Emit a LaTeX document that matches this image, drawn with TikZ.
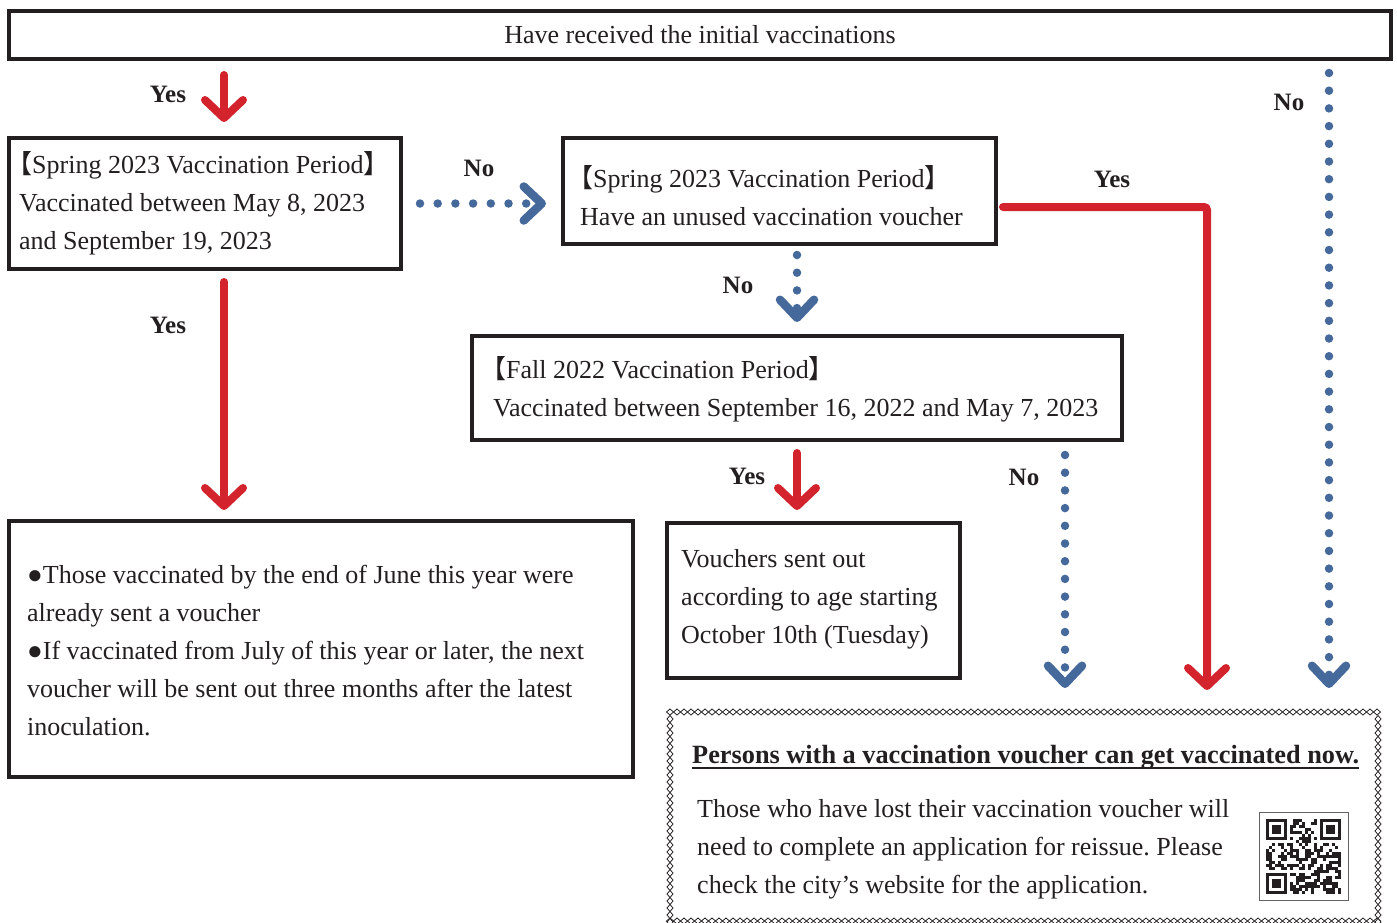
\documentclass[tikz,border=0pt]{standalone}
\usepackage{fontspec}
\setmainfont{Liberation Serif}
\newfontfamily\cjk[RawFeature=+halt]{Noto Sans CJK JP}
\usetikzlibrary{arrows.meta}
\frenchspacing

\newcommand\bodyfont{\fontsize{26}{38}\selectfont}
\newcommand\lbr{{\cjk 【}}
\newcommand\rbr{{\cjk 】}}
\definecolor{vred}{HTML}{D3232C}
\definecolor{vblue}{HTML}{46699B}
\definecolor{ink}{HTML}{231F20}

\tikzset{
  box/.style={draw=ink, line width=3.5pt, anchor=north west, inner sep=0pt, outer sep=0pt},
  txt/.style={font=\bodyfont, text=ink, align=left, inner sep=0pt, anchor=west},
  lbl/.style={font=\fontsize{25}{30}\selectfont\bfseries, text=ink, inner sep=0pt},
  yesarrow/.style={draw=vred, line width=8pt, line cap=round,
    -{Straight Barb[round, length=18pt, width=38pt, line width=8pt]}},
  noarrow/.style={draw=vblue, line width=8.5pt, line cap=round, dash pattern=on 0pt off 17.7pt,
    -{Straight Barb[round, length=18pt, width=34pt, line width=8.5pt]}},
  chainlink/.style={draw=ink, line width=0.8pt, fill=white},
}

\begin{document}
\begin{tikzpicture}[x=1pt, y=-1pt]
\clip (0,0) rectangle (1397,922);
\fill[white] (0,0) rectangle (1397,922);

% columns used by the long arrows
\coordinate (colA) at (224,0);
\coordinate (colF1) at (1065,0);
\coordinate (colF2) at (1207,0);
\coordinate (colF3) at (1329,0);

% question boxes
\node[box, font=\bodyfont, text=ink, minimum width=1382pt, minimum height=48pt] (start) at (9,11)
  {Have received the initial vaccinations};

\node[box, minimum width=392pt, minimum height=131pt] (boxA) at (9,138) {};
\node[txt] (textA) at ([xshift=10pt]boxA.west)
  {\lbr Spring 2023 Vaccination Period\rbr\\Vaccinated between May 8, 2023\\and September 19, 2023};

\node[box, minimum width=433pt, minimum height=106pt] (boxB) at (563,138) {};
\node[txt] (textB) at ([xshift=17pt,yshift=-5pt]boxB.west)
  {\lbr Spring 2023 Vaccination Period\rbr\\Have an unused vaccination voucher};

\node[box, minimum width=650pt, minimum height=104pt] (boxC) at (472,336) {};
\node[txt] (textC) at ([xshift=21pt,yshift=-1pt]boxC.west)
  {\lbr Fall 2022 Vaccination Period\rbr\\Vaccinated between September 16, 2022 and May 7, 2023};

% result boxes
\node[box, minimum width=293pt, minimum height=155pt] (boxD) at (667,523) {};
\node[txt] (textD) at ([xshift=14pt,yshift=1pt]boxD.west)
  {Vouchers sent out\\according to age starting\\October 10th (Tuesday)};

\node[box, minimum width=624pt, minimum height=256pt] (boxE) at (9,521) {};
\node[txt] (textE) at ([xshift=18pt,yshift=-2pt]boxE.west)
  {●Those vaccinated by the end of June this year were\\already sent a voucher\\
   ●If vaccinated from July of this year or later, the next\\
   voucher will be sent out three months after the latest\\inoculation.};

\node[anchor=north west, minimum width=708pt, minimum height=209pt, inner sep=0pt, outer sep=0pt] (boxF) at (670,712) {};
\foreach \i in {0,...,101} {
  \draw[chainlink] (670+7*\i,712) +(-3.5,0) -- +(0,-3) -- +(3.5,0) -- +(0,3) -- cycle;
  \draw[chainlink] (670+7*\i,921) +(-3.5,0) -- +(0,-3) -- +(3.5,0) -- +(0,3) -- cycle;
}
\foreach \j in {1,...,30} {
  \draw[chainlink] (670,712+7*\j) +(-3,0) -- +(0,-3.5) -- +(3,0) -- +(0,3.5) -- cycle;
  \draw[chainlink] (1378,712+7*\j) +(-3,0) -- +(0,-3.5) -- +(3,0) -- +(0,3.5) -- cycle;
}
\node[anchor=base west, font=\fontsize{26.3}{30}\selectfont\bfseries, text=ink, inner sep=0pt] (title) at (692,763)
  {Persons with a vaccination voucher can get vaccinated now.};
\draw[ink, line width=2.5pt] ([yshift=-5pt]title.base west) -- ([yshift=-5pt]title.base east);
\node[txt] (lost) at (697,849)
  {Those who have lost their vaccination voucher will\\need to complete an application for reissue. Please\\check the city’s website for the application.};

% qr code
\node[draw=ink!70, line width=1pt, minimum width=89pt, minimum height=88pt, anchor=north west, inner sep=0pt] (qr) at (1259,812) {};
\begin{scope}[shift={(1266,819)}, x=3pt, y=-3pt]
  \pgfmathsetseed{11}
  \foreach \r in {0,...,24} \foreach \c in {0,...,24} {
    \pgfmathrandominteger{\bit}{0}{1}
    \ifnum\bit=1 \fill[ink] (\c,\r) rectangle ++(1,1); \fi
  }
  \foreach \fx/\fy/\sx/\sy in {0/0/0/0, 18/0/17/0, 0/18/0/17} {
    \fill[white] (\sx,\sy) rectangle ++(8,8);
    \fill[ink] (\fx,\fy) rectangle ++(7,7);
    \fill[white] (\fx+1,\fy+1) rectangle ++(5,5);
    \fill[ink] (\fx+2,\fy+2) rectangle ++(3,3);
  }
\end{scope}

% connectors
\draw[yesarrow, shorten <=16pt, shorten >=16pt] (start.south -| colA) -- (boxA.north -| colA);
\draw[yesarrow, shorten <=13pt, shorten >=11pt] (boxA.south -| colA) -- (boxE.north -| colA);
\draw[noarrow, shorten <=19pt, shorten >=17pt] (boxA.east) -- (boxA.east -| boxB.west);
\draw[noarrow, shorten <=11pt, shorten >=14pt] (boxB.south -| boxC.north) -- (boxC.north);
\draw[yesarrow, rounded corners=3pt, shorten <=7pt, shorten >=22pt] ([yshift=-16pt]boxB.east) -| (boxF.north -| colF2);
\draw[yesarrow, shorten <=13pt, shorten >=13pt] (boxC.south) -- (boxD.north -| boxC.south);
\draw[noarrow, shorten <=15pt, shorten >=24pt] (boxC.south -| colF1) -- (boxF.north -| colF1);
\draw[noarrow, shorten <=14pt, shorten >=24pt] (start.south -| colF3) -- (boxF.north -| colF3);

% labels
\node[lbl] (yes1) at (168,94) {Yes};
\node[lbl] (yes2) at (168,325) {Yes};
\node[lbl] (no1) at (479,168) {No};
\node[lbl] (no2) at (738,285) {No};
\node[lbl] (yes3) at (1112,179) {Yes};
\node[lbl] (yes4) at (747,476) {Yes};
\node[lbl] (no3) at (1024,477) {No};
\node[lbl] (no4) at (1289,102) {No};
\end{tikzpicture}
\end{document}
